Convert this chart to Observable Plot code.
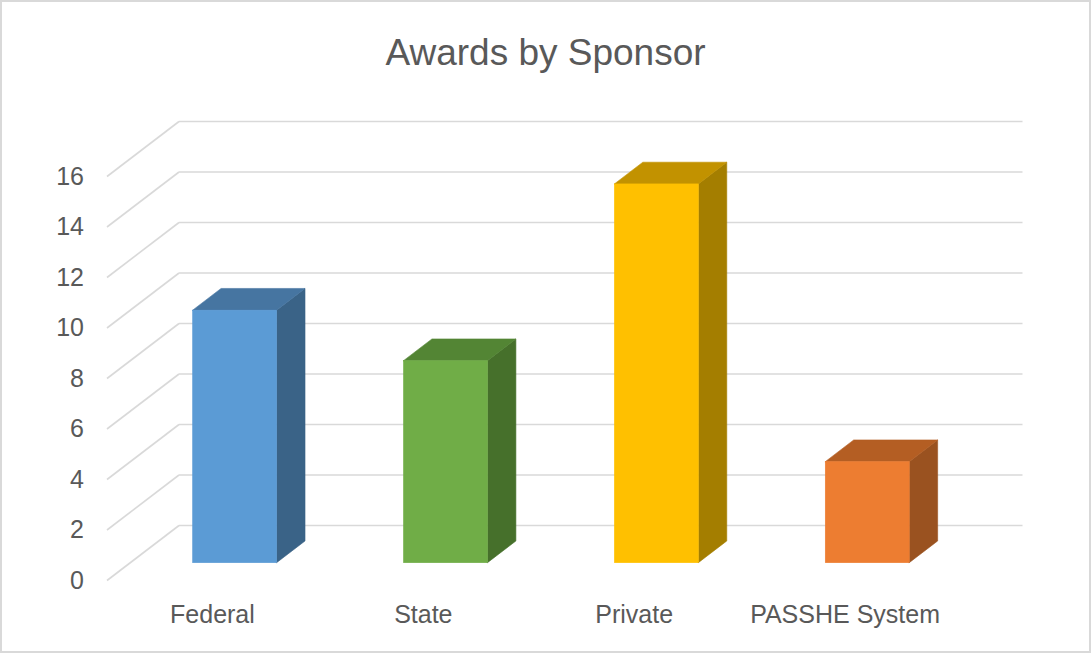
<!DOCTYPE html>
<html>
<head>
<meta charset="utf-8">
<script src="https://cdn.jsdelivr.net/npm/d3@7"></script>
<script src="https://cdn.jsdelivr.net/npm/@observablehq/plot@0.6"></script>
<style>
  html, body { margin: 0; padding: 0; background: #fff; }
  #wrap { position: relative; width: 1091px; height: 653px; overflow: hidden; background: #fff; font-family: "Liberation Sans", Arial, sans-serif; }
  #frame { position: absolute; left: 0; top: 0; width: 1091px; height: 653px; box-sizing: border-box; border: 2px solid #d9d9d9; pointer-events: none; }
  #title { position: absolute; left: 0; top: 34px; width: 1091px; text-align: center; font-size: 37px; line-height: 37px; color: #595959; }
  #chart { position: absolute; left: 0; top: 100px; }
</style>
</head>
<body>
<div id="wrap">
  <div id="title">Awards by Sponsor</div>
  <div id="chart"></div>
  <div id="frame"></div>
</div>
<script>
// ---- data ----
const categories = ["Federal", "State", "Private", "PASSHE System"];
const values = [10, 8, 15, 4];
const yTicks = [0, 2, 4, 6, 8, 10, 12, 14, 16];
const frontColors = ["#5B9BD5", "#70AD47", "#FFC000", "#ED7D31"];
const topColors = ["#4675A1", "#538534", "#C29200", "#B45E23"];
const sideColors = ["#3A6387", "#46702B", "#A47E00", "#9A5220"];

// ---- 3D geometry (style parameters, in data units) ----
const DX = 72 / 210.875;   // full depth, x shift
const DY = 55 / 25.25;     // full depth, y shift
const Z0 = 0.315, Z1 = 0.71; // bar front/back depth
const BW = 0.398;          // bar width (fraction of band)

const rows = categories.map((c, i) => ({
  c, i, v: values[i],
  front: frontColors[i], top: topColors[i], side: sideColors[i],
  xl: i + 0.5 - BW / 2, xr: i + 0.5 + BW / 2
}));

const topPts = rows.flatMap(d => [
  {c: d.c, fill: d.top, y: d.v + Z0 * DY, x1: d.xl + Z0 * DX, x2: d.xr + Z0 * DX},
  {c: d.c, fill: d.top, y: d.v + Z1 * DY, x1: d.xl + Z1 * DX, x2: d.xr + Z1 * DX}
]);
const sidePts = rows.flatMap(d => [
  {c: d.c, fill: d.side, x: d.xr + Z0 * DX, y1: Z0 * DY, y2: d.v + Z0 * DY},
  {c: d.c, fill: d.side, x: d.xr + Z1 * DX, y1: Z1 * DY, y2: d.v + Z1 * DY}
]);

const grid = "#d9d9d9";
const chart = Plot.plot({
  width: 1091,
  height: 553,
  marginLeft: 106.5,
  marginRight: 141,
  marginTop: 76,
  marginBottom: 73,
  style: {fontFamily: "'Liberation Sans', Arial, sans-serif", background: "transparent"},
  x: {type: "linear", domain: [0, categories.length], axis: null},
  y: {domain: [0, 16], axis: null},
  color: {type: "identity"},
  marks: [
    // side wall gridlines
    Plot.link(yTicks, {x1: () => 0, y1: d => d, x2: () => DX, y2: d => d + DY, stroke: grid, strokeWidth: 1.6}),
    // back wall gridlines
    Plot.link(yTicks, {x1: () => DX, y1: d => d + DY, x2: () => categories.length + DX, y2: d => d + DY, stroke: grid, strokeWidth: 1.6}),
    // bar faces
    Plot.areaY(sidePts, {x: "x", y1: "y1", y2: "y2", z: "c", fill: "fill", stroke: "fill", strokeWidth: 0.6}),
    Plot.areaX(topPts, {y: "y", x1: "x1", x2: "x2", z: "c", fill: "fill", stroke: "fill", strokeWidth: 0.6}),
    Plot.rect(rows, {
      x1: d => d.xl + Z0 * DX, x2: d => d.xr + Z0 * DX,
      y1: () => Z0 * DY, y2: d => d.v + Z0 * DY,
      fill: "front", stroke: "front", strokeWidth: 0.6
    }),
    // axes
    Plot.axisY(yTicks, {tickSize: 0, tickPadding: 23, fontSize: 25, color: "#595959", label: null}),
    Plot.text(rows, {x: d => d.i + 0.5, y: () => 0, text: "c", dy: 34, fontSize: 25, fill: "#595959", lineAnchor: "middle"})
  ]
});
document.getElementById("chart").appendChild(chart);
</script>
</body>
</html>
